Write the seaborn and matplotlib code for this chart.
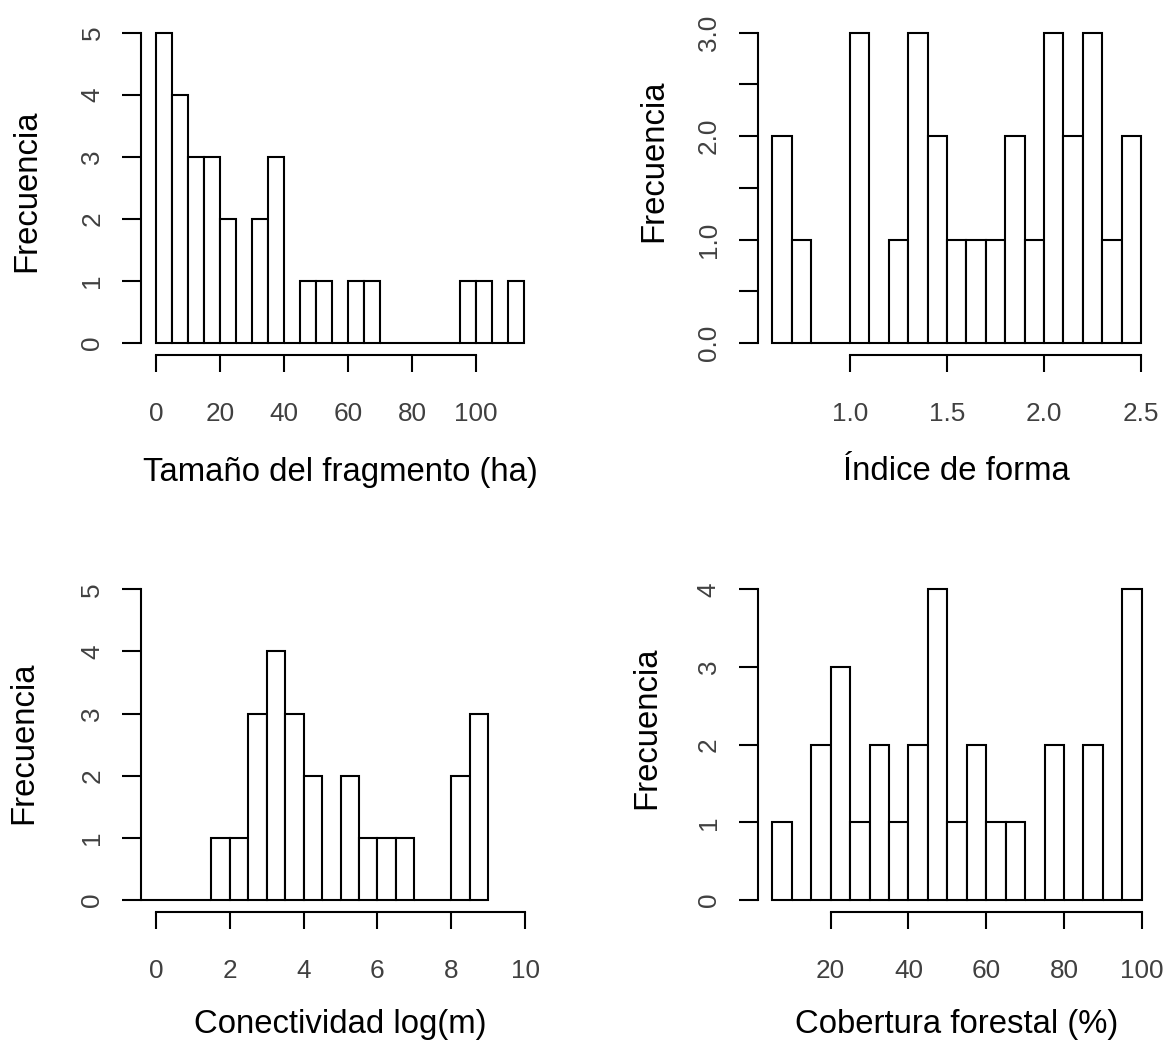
import numpy as np
import pandas as pd
import matplotlib
matplotlib.use("Agg")
import matplotlib.pyplot as plt
import seaborn as sns

# Bin edges and frequencies for each landscape variable
size_edges = np.arange(0, 116, 5)            # Tamaño del fragmento (ha)
size_counts = [5, 4, 3, 3, 2, 0, 2, 3, 0, 1, 1, 0, 1, 1, 0, 0, 0, 0, 0, 1, 1, 0, 1]

shape_edges = np.round(np.arange(0.6, 2.51, 0.1), 2)   # Índice de forma
shape_counts = [2, 1, 0, 0, 3, 0, 1, 3, 2, 1, 1, 1, 2, 1, 3, 2, 3, 1, 2]

conn_edges = np.arange(-0.5, 9.01, 0.5)      # Conectividad log(m)
conn_counts = [0, 0, 0, 0, 1, 1, 3, 4, 3, 2, 0, 2, 1, 1, 1, 0, 0, 2, 3]

cover_edges = np.arange(5, 101, 5)           # Cobertura forestal (%)
cover_counts = [1, 0, 2, 3, 1, 2, 1, 2, 4, 1, 2, 1, 1, 0, 2, 0, 2, 0, 4]

x_labels = ["Tamaño del fragmento (ha)", "Índice de forma",
            "Conectividad log(m)", "Cobertura forestal (%)"]
x_ticks = [[0, 20, 40, 60, 80, 100], [1.0, 1.5, 2.0, 2.5],
           [0, 2, 4, 6, 8, 10], [20, 40, 60, 80, 100]]
x_ticklabels = [["0", "20", "40", "60", "80", "100"], ["1.0", "1.5", "2.0", "2.5"],
                ["0", "2", "4", "6", "8", "10"], ["20", "40", "60", "80", "100"]]
y_ticks = [[0, 1, 2, 3, 4, 5], [0, 0.5, 1.0, 1.5, 2.0, 2.5, 3.0],
           [0, 1, 2, 3, 4, 5], [0, 1, 2, 3, 4]]
y_ticklabels = [["0", "1", "2", "3", "4", "5"], ["0.0", "", "1.0", "", "2.0", "", "3.0"],
                ["0", "1", "2", "3", "4", "5"], ["0", "1", "2", "3", "4"]]

sns.set_theme(style="white")
plt.rcParams["font.family"] = ["Liberation Sans", "DejaVu Sans"]

W, H = 1165, 1042
fig = plt.figure(figsize=(W / 100, H / 100), dpi=100)
fig.patch.set_facecolor("white")

# panel boxes in pixels: left, top, right, bottom
boxes = [(141.3, 20.3, 538.7, 355.4), (757.6, 20.3, 1155.7, 355.4),
         (141.2, 576.9, 539.8, 912.4), (757.5, 576.9, 1156.6, 912.4)]
xlims = [(-4.6, 119.6), (0.524, 2.576), (-0.4, 10.4), (1.2, 103.8)]
ylims = [(-0.2, 5.2), (-0.12, 3.12), (-0.2, 5.2), (-0.16, 4.16)]
# label centres in pixels: (x label centre y, y label centre x, y label centre y)
label_pos = [(472, 27, 191), (472, 654, 161), (1024, 24, 743), (1024, 647, 728)]

data = [(size_edges, size_counts), (shape_edges, shape_counts),
        (conn_edges, conn_counts), (cover_edges, cover_counts)]

tick_color = "#404040"
for i, (edges, counts) in enumerate(data):
    l, t, r, b = boxes[i]
    ax = fig.add_axes([l / W, 1 - b / H, (r - l) / W, (b - t) / H])
    edges = [float(e) for e in edges]
    centers = [(a + c) / 2 for a, c in zip(edges[:-1], edges[1:])]
    df = pd.DataFrame({"centro": centers,
                       "frecuencia": [float(c) for c in counts]})
    sns.histplot(data=df, x="centro", weights="frecuencia", bins=edges, ax=ax,
                 color="white", edgecolor="black", linewidth=1.5, alpha=1)
    ax.set_xlim(*xlims[i])
    ax.set_ylim(*ylims[i])
    ax.set_facecolor("white")

    for side in ("top", "right"):
        ax.spines[side].set_visible(False)
    for side in ("left", "bottom"):
        ax.spines[side].set_color("black")
        ax.spines[side].set_linewidth(1.5)
    ax.spines["bottom"].set_bounds(x_ticks[i][0], x_ticks[i][-1])
    ax.spines["left"].set_bounds(y_ticks[i][0], y_ticks[i][-1])

    ax.set_xticks(x_ticks[i])
    ax.set_xticklabels(x_ticklabels[i])
    ax.set_yticks(y_ticks[i])
    ax.set_yticklabels(y_ticklabels[i])
    ax.tick_params(axis="x", direction="out", length=12.5, width=1.5, color="black",
                   pad=21, labelsize=18.8, labelcolor=tick_color, bottom=True)
    ax.tick_params(axis="y", direction="out", length=13.5, width=1.5, color="black",
                   pad=13, labelsize=18.8, labelcolor=tick_color, left=True,
                   labelrotation=90)
    for lab in ax.get_yticklabels():
        lab.set_va("center")

    xl_y, yl_x, yl_y = label_pos[i]
    ax.set_xlabel(x_labels[i], fontsize=23.7, color="black", va="center")
    ax.xaxis.set_label_coords(((l + r) / 2) / W, 1 - xl_y / H, transform=fig.transFigure)
    ax.set_ylabel("Frecuencia", fontsize=23.7, color="black", va="center")
    ax.yaxis.set_label_coords(yl_x / W, 1 - yl_y / H, transform=fig.transFigure)
    ax.grid(False)

fig.savefig("out.png", dpi=100, facecolor="white")
